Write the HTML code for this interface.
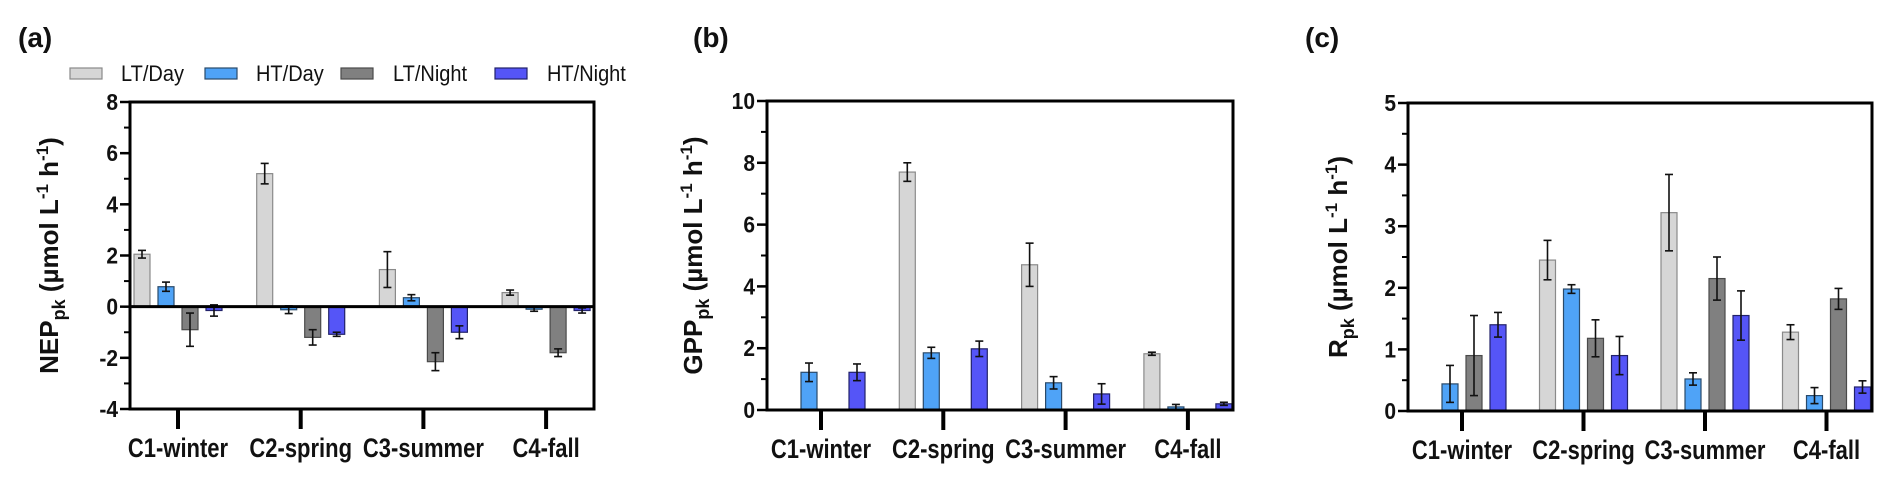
<!DOCTYPE html>
<html><head><meta charset="utf-8"><style>
html,body{margin:0;padding:0;background:#fff;}
svg{display:block;font-family:"Liberation Sans",Arial,sans-serif;}
</style></head><body>
<svg id="fig" width="1892" height="481" viewBox="0 0 1892 481" xmlns="http://www.w3.org/2000/svg">
<g id="legend"></g>
</svg>
<script>
const categories = ["C1-winter","C2-spring","C3-summer","C4-fall"];
const seriesNames = ["LT/Day","HT/Day","LT/Night","HT/Night"];
const seriesColors = ["#d6d6d6","#4fa3f7","#808080","#5555f7"];
const seriesStroke = ["#8a8a8a","#2a4a6a","#4a4a4a","#22226a"];
// Panel a: NEP
const nepLTDay = [2.05, 5.2, 1.45, 0.55];
const nepLTDayErr = [0.15, 0.4, 0.7, 0.1];
const nepHTDay = [0.78, -0.12, 0.35, -0.1];
const nepHTDayErr = [0.18, 0.15, 0.12, 0.08];
const nepLTNight = [-0.9, -1.2, -2.15, -1.8];
const nepLTNightErr = [0.65, 0.3, 0.35, 0.15];
const nepHTNight = [-0.15, -1.08, -1.0, -0.15];
const nepHTNightErr = [0.22, 0.08, 0.25, 0.1];
const nepTicks = [-4,-2,0,2,4,6,8];
// Panel b: GPP (null = no bar)
const gppLTDay = [null, 7.7, 4.7, 1.82];
const gppLTDayErr = [0, 0.3, 0.7, 0.05];
const gppHTDay = [1.22, 1.85, 0.88, 0.1];
const gppHTDayErr = [0.3, 0.18, 0.2, 0.08];
const gppLTNight = [null, null, null, null];
const gppLTNightErr = [0, 0, 0, 0];
const gppHTNight = [1.22, 1.98, 0.52, 0.2];
const gppHTNightErr = [0.27, 0.25, 0.33, 0.05];
const gppTicks = [0,2,4,6,8,10];
// Panel c: R
const rLTDay = [null, 2.45, 3.22, 1.28];
const rLTDayErr = [0, 0.32, 0.62, 0.12];
const rHTDay = [0.44, 1.98, 0.52, 0.25];
const rHTDayErr = [0.3, 0.07, 0.1, 0.13];
const rLTNight = [0.9, 1.18, 2.15, 1.82];
const rLTNightErr = [0.65, 0.3, 0.35, 0.17];
const rHTNight = [1.4, 0.9, 1.55, 0.39];
const rHTNightErr = [0.2, 0.31, 0.4, 0.1];
const rTicks = [0,1,2,3,4,5];

const NS="http://www.w3.org/2000/svg";
const svg=document.getElementById('fig');
function mk(tag,attrs,parent){const e=document.createElementNS(NS,tag);for(const k in attrs)e.setAttribute(k,attrs[k]);(parent||svg).appendChild(e);return e;}

const panels=[
 {key:"a",label:"(a)",lx:18,title:"NEP",left:130,right:594,top:102,bottom:409,min:-4,max:8,minorStep:1,ticks:nepTicks,off:48,spacing:122.7,titleX:50,
  vals:[nepLTDay,nepHTDay,nepLTNight,nepHTNight],errs:[nepLTDayErr,nepHTDayErr,nepLTNightErr,nepHTNightErr]},
 {key:"b",label:"(b)",lx:693,title:"GPP",left:767,right:1233,top:101,bottom:410,min:0,max:10,minorStep:1,ticks:gppTicks,off:54,spacing:122.3,titleX:694,
  vals:[gppLTDay,gppHTDay,gppLTNight,gppHTNight],errs:[gppLTDayErr,gppHTDayErr,gppLTNightErr,gppHTNightErr]},
 {key:"c",label:"(c)",lx:1305,title:"R",left:1408,right:1872,top:103,bottom:411,min:0,max:5,minorStep:0.5,ticks:rTicks,off:54,spacing:121.5,titleX:1339,
  vals:[rLTDay,rHTDay,rLTNight,rHTNight],errs:[rLTDayErr,rHTDayErr,rLTNightErr,rHTNightErr]}
];

panels.forEach(p=>{
  const g=mk('g',{});
  
  
  const y=v=>p.bottom-(v-p.min)/(p.max-p.min)*(p.bottom-p.top);
  const gx=i=>p.left+p.off+i*p.spacing;
  const pl=mk('text',{x:p.lx,y:47,'font-size':28,'font-weight':'bold',fill:'#111'},g);
  pl.textContent=p.label;
  
  
  p.vals.forEach((arr,s)=>{
    arr.forEach((v,i)=>{
      if(v===null)return;
      const cx=gx(i)+(s-1.5)*24;
      const y0=y(0), y1=y(v);
      const r=mk('rect',{x:cx-8,y:Math.min(y0,y1),width:16,height:Math.max(Math.abs(y1-y0),1),fill:seriesColors[s],stroke:seriesStroke[s],'stroke-width':1.2},g);
      
      
      const e=p.errs[s][i];
      if(e>0){
        const eg=mk('g',{stroke:'#111','stroke-width':1.6},g);
        
        
        mk('line',{x1:cx,x2:cx,y1:y(v-e),y2:y(v+e)},eg);
        mk('line',{x1:cx-4,x2:cx+4,y1:y(v-e),y2:y(v-e)},eg);
        mk('line',{x1:cx-4,x2:cx+4,y1:y(v+e),y2:y(v+e)},eg);
      }
    });
  });
  const fr=mk('rect',{x:p.left,y:p.top,width:p.right-p.left,height:p.bottom-p.top,fill:'none',stroke:'#000','stroke-width':3},g);
  
  
  if(p.min<0){
    const zl=mk('line',{x1:p.left,x2:p.right,y1:y(0),y2:y(0),stroke:'#000','stroke-width':3},g);
    
    
  }
  for(let v=p.min;v<=p.max+1e-9;v+=p.minorStep){
    mk('line',{x1:p.left-6,x2:p.left,y1:y(v),y2:y(v),stroke:'#000','stroke-width':2},g);
  }
  p.ticks.forEach(t=>{
    mk('line',{x1:p.left-10,x2:p.left,y1:y(t),y2:y(t),stroke:'#000','stroke-width':2.5},g);
    const tl=mk('text',{x:0,y:0,'font-size':21,'font-weight':'bold','text-anchor':'end',fill:'#111',transform:`translate(${p.left-12},${y(t)+8}) scale(1,1.1)`},g);
    tl.textContent=String(t);
    
    
  });
  categories.forEach((c,i)=>{
    mk('line',{x1:gx(i),x2:gx(i),y1:p.bottom,y2:p.bottom+20,stroke:'#000','stroke-width':4},g);
    const cl=mk('text',{x:0,y:0,'font-size':22,'font-weight':'bold','text-anchor':'middle',fill:'#111',transform:`translate(${gx(i)},${p.bottom+48}) scale(1,1.2)`},g);
    cl.textContent=c;
    
    
  });
  const cy=(p.top+p.bottom)/2;
  const yt=mk('text',{x:0,y:0,'font-size':26,'font-weight':'bold','text-anchor':'middle',fill:'#111',transform:`translate(${p.titleX+8},${cy}) rotate(-90)`},g);
  
  
  yt.innerHTML=p.title+'<tspan font-size="18" dy="7">pk</tspan><tspan dy="-7"> (µmol L</tspan><tspan font-size="17" dy="-10">-1</tspan><tspan dy="10"> h</tspan><tspan font-size="17" dy="-10">-1</tspan><tspan dy="10">)</tspan>';
});

const leg=document.getElementById('legend');
const legSw=[70,205,341,495];
const legTx=[121,256,393,547];
seriesNames.forEach((n,s)=>{
  const it=mk('g',{},leg);
  
  
  mk('rect',{x:legSw[s],y:68,width:32,height:11,fill:seriesColors[s],stroke:seriesStroke[s],'stroke-width':1.2},it);
  const t=mk('text',{x:0,y:0,'font-size':20,fill:'#111',transform:`translate(${legTx[s]},${81}) scale(1,1.12)`},it);
  t.textContent=n;
});
</script>
</body></html>
